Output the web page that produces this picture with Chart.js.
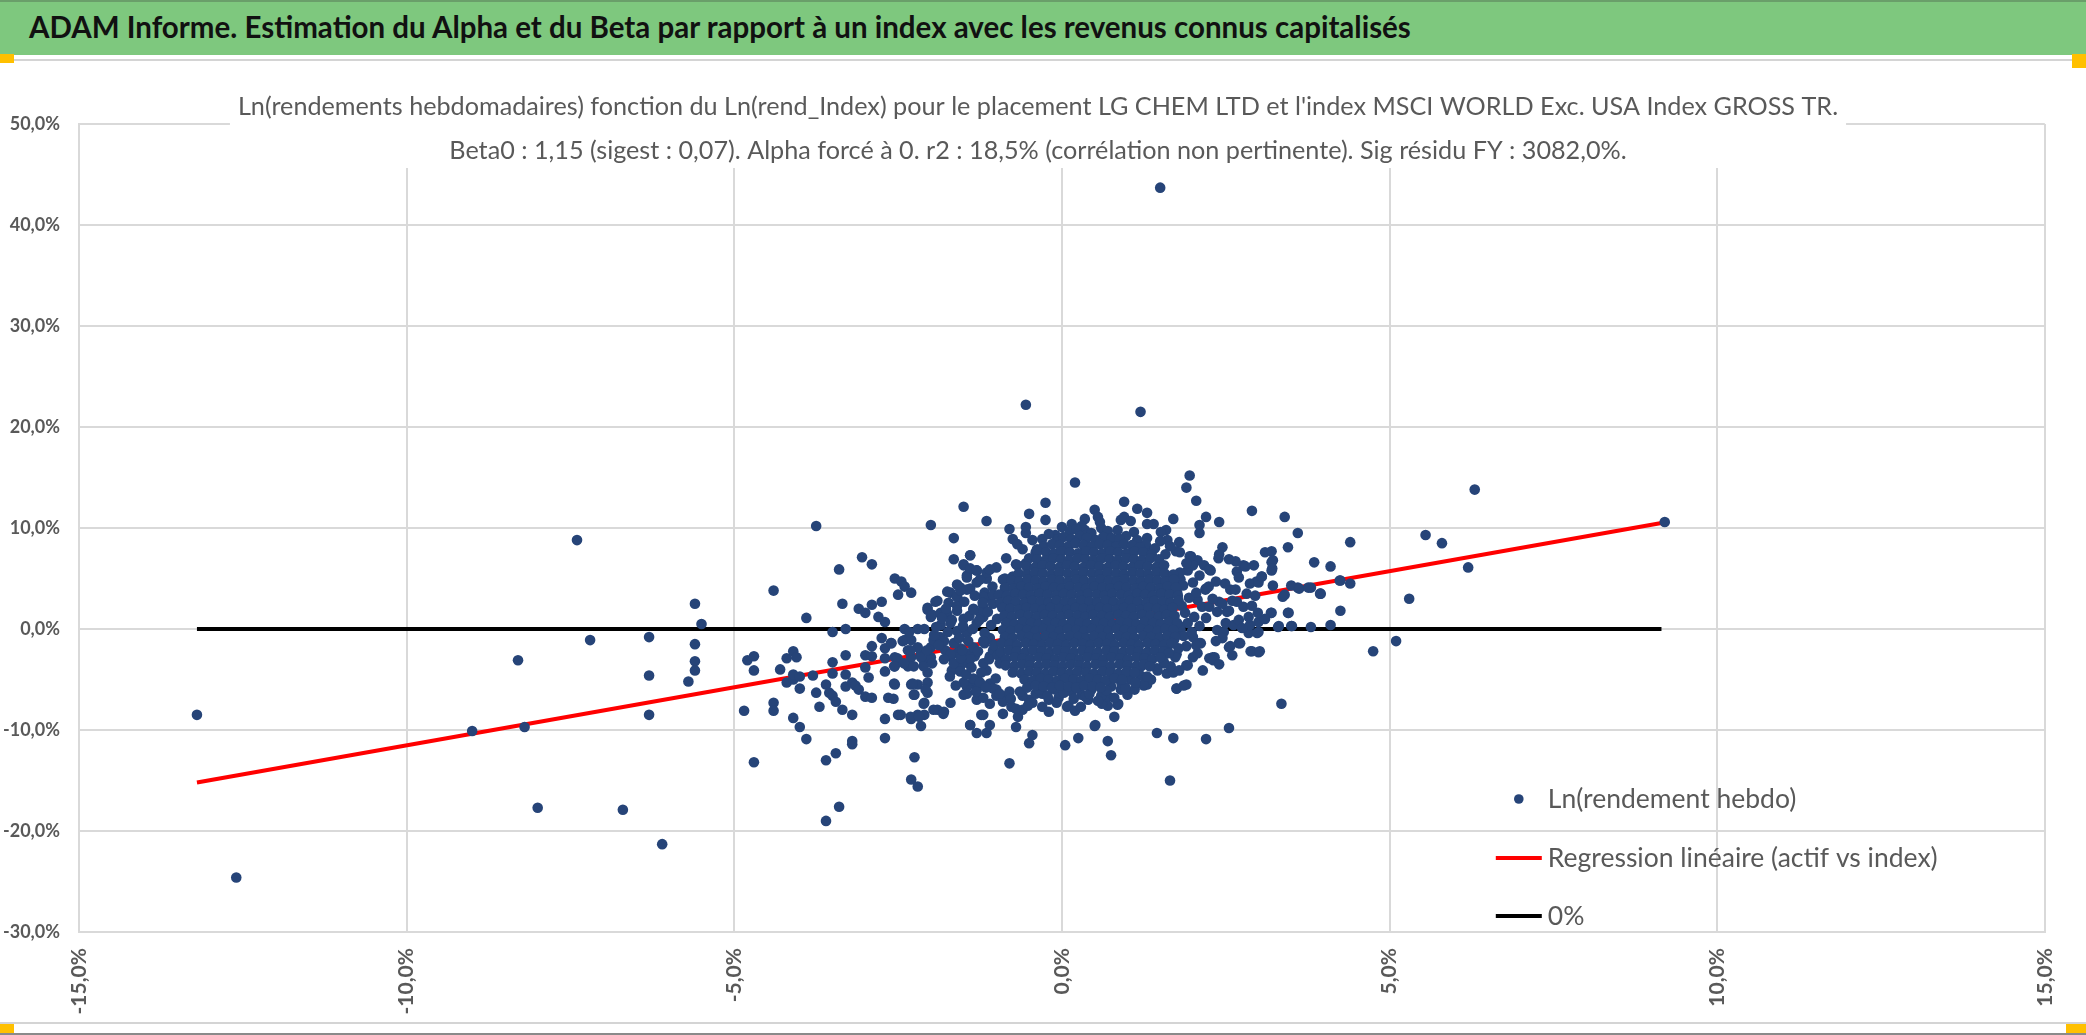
<!DOCTYPE html>
<html>
<head>
<meta charset="utf-8">
<script src="https://cdn.jsdelivr.net/npm/chart.js@4.4.1/dist/chart.umd.min.js"></script>
<style>
  html, body { margin: 0; padding: 0; background: #fff; }
  body { width: 2086px; height: 1035px; position: relative; overflow: hidden; }
  #banner { position: absolute; left: 0; top: 0; width: 2086px; height: 55px; background: #7ec87e; border-top: 2px solid #6a9f6a; box-sizing: border-box; z-index: 2; }
  #banner span { position: absolute; left: 29px; top: 7px; font: 700 29.5px Lato, sans-serif; color: #111; white-space: nowrap; }
  #sep { position: absolute; left: 0; top: 59px; width: 2086px; height: 2px; background: #d4d4d4; z-index: 2; }
  #foot { position: absolute; left: 0; top: 1022px; width: 2086px; height: 2px; background: #d4d4d4; z-index: 2; }
  #foot2 { position: absolute; left: 0; top: 1033px; width: 2086px; height: 2px; background: #8a8a8a; z-index: 2; }
  .handle { position: absolute; width: 14px; height: 9px; background: #ffc000; z-index: 3; }
  #chart { position: absolute; left: 0; top: 0; }
</style>
</head>
<body>
<div id="banner"><span>ADAM Informe. Estimation du Alpha et du Beta par rapport à un index avec les revenus connus capitalisés</span></div>
<div id="sep"></div>
<div class="handle" style="left:0;top:54px"></div>
<div class="handle" style="left:2072px;top:54px;height:14px"></div>
<div id="foot"></div>
<div id="foot2"></div>
<div class="handle" style="left:0;top:1024px"></div>
<div class="handle" style="left:2066px;top:1024px;width:20px"></div>
<canvas id="chart" width="2086" height="1035"></canvas>
<script>
// axis ranges and ticks (percent)
const xMin = -15, xMax = 15, xStep = 5;
const yMin = -30, yMax = 50, yStep = 10;

const seriesNames = ['Ln(rendement hebdo)', 'Regression linéaire (actif vs index)', '0%'];
const titleLines = [
  "Ln(rendements hebdomadaires) fonction du Ln(rend_Index) pour le placement LG CHEM LTD et l'index MSCI WORLD Exc. USA Index GROSS TR.",
  "Beta0 : 1,15 (sigest : 0,07). Alpha forcé à 0. r2 : 18,5% (corrélation non pertinente). Sig résidu FY : 3082,0%."
];

// regression line (beta 1,15, alpha 0) and 0% line
const regressionX = [-13.2, 9.15];
const regressionY = [-15.2, 10.5];
const zeroX = [-13.2, 9.15];
const zeroY = [0, 0];

// weekly log returns [index %, asset %] - isolated points
const leftTail = [
  [-13.2,-8.5],[-12.6,-24.6],[-9.0,-10.1],[-8.2,-9.7],[-8.0,-17.7],[-8.3,-3.1],[-7.4,8.8],[-7.2,-1.1],
  [-6.7,-17.9],[-6.3,-0.8],[-6.3,-4.6],[-6.3,-8.5],[-6.1,-21.3],[-5.7,-5.2],[-5.6,2.5],[-5.5,0.5],
  [-5.6,-1.5],[-5.6,-3.2],[-5.6,-4.1],[-4.85,-8.1],[-4.7,-13.2],[-4.8,-3.1],[-4.7,-2.7],[-4.7,-4.1],
  [-4.4,-7.3],[-4.4,-8.1],[-4.4,3.8],[-4.3,-4.0],[-4.2,-2.9],[-4.1,-2.2],[-4.05,-2.8],[-4.2,-5.3],
  [-4.1,-5.0],[-4.1,-4.5],[-4.0,-4.7],[-4.0,-5.9],[-4.1,-8.8],[-4.0,-9.7],[-3.9,-10.9],[-3.9,1.1],
  [-3.75,10.2],[-3.8,-4.6],[-3.75,-6.3],[-3.7,-7.7],[-3.6,-5.5],[-3.55,-6.3],[-3.5,-6.6],[-3.45,-7.2],
  [-3.35,-8.0],[-3.5,-3.3],[-3.5,-4.4],[-3.3,-4.5],[-3.3,-2.6],[-3.6,-13.0],[-3.45,-12.3],[-3.4,-17.6],
  [-3.6,-19.0],[-3.3,-5.7],[-3.2,-5.3],[-3.15,-5.6],[-3.1,-6.0],[-3.0,-6.7],[-2.9,-6.8],[-3.2,-8.5],
  [-3.2,-11.1],[-3.2,-11.4],[-2.95,-4.8],[-3.0,-3.8],[-3.0,-2.6],[-2.7,-4.2],[-2.65,-6.8],[-2.7,-8.9],
  [-2.7,-10.8],[-2.55,-5.5],[-2.5,-8.5],[-2.3,-8.9],[-2.25,-12.7],[-2.3,-14.9],[-2.2,-15.6],[-2.3,-5.5],
  [-2.25,-6.5],[-2.2,-5.5],[-2.2,-8.5],[-2.15,-9.6],[-2.1,-8.5],
  [-3.4,5.9],[-3.35,2.5],[-3.05,7.1],[-2.9,6.4],[-3.5,-0.3],[-3.3,0.0],[-3.1,2.0],[-3.0,1.6],
  [-2.9,2.4],[-2.75,2.7],[-2.8,1.2],[-2.7,0.7],[-2.55,5.0],[-2.45,4.7],[-2.4,4.2],[-2.3,3.6],
  [-2.5,3.4],[-2.75,-0.9],[-2.9,-1.7],[-2.9,-2.7],[-2.6,-1.4],[-2.7,-1.9],[-2.7,-2.9],[-2.4,-1.1],
  [-2.4,0.0],[-2.2,0.0],[-2.1,0.0],[-2.05,1.9],[-2.0,1.2],[-1.9,2.8],[-2.0,10.3],[-1.5,12.1],
  [-1.65,9.0],[-1.65,6.9],[-1.4,7.3],[-1.15,10.7],[-0.5,11.4],[-0.25,12.5],[-0.8,9.9],[-0.75,8.9],
  [-0.55,10.1],[-0.55,9.5],[0.0,10.1],[-0.1,9.3],[-0.4,7.6],[-0.7,6.4],[-0.55,6.5],[-1.5,6.4],
  [-1.45,5.3],[-1.3,5.8],[-1.4,5.9],[-1.15,5.0],[-0.55,22.2],
  [-2.1,-7.3],[-2.05,-6.3],[-2.05,-5.3],[-2.05,-4.3],[-2.1,-3.3],[-2.15,-2.4],[-2.0,-1.8],[-2.0,-2.8],
  [-1.9,-8.0],[-1.8,-8.2],[-1.7,-7.3],[-2.35,-2.1],[-2.3,-2.8],[-2.35,-3.7],[-2.3,-1.1],[-2.2,-1.8],
  [-2.15,-2.8],[-2.55,-3.7],[-2.55,-2.8],[-1.4,-9.5],[-1.3,-10.3],[-1.15,-10.3],[-1.1,-9.5],[-1.2,-8.5],
  [-0.8,-13.3],[-0.5,-11.3],[-0.45,-10.5],[0.05,-11.5]
];

const rightTail = [
  [1.5,43.7],[1.2,21.5],[0.2,14.5],[1.95,15.2],[1.9,14.0],[2.05,12.7],[0.95,12.6],[1.15,11.9],
  [1.3,11.5],[0.5,11.8],[0.55,11.1],[0.35,10.9],[0.9,10.8],[0.95,11.1],[1.05,10.7],[1.7,10.9],
  [1.4,10.4],[1.3,10.4],[2.9,11.7],[3.4,11.1],[2.2,11.1],[2.1,10.3],[2.1,9.5],[2.4,10.6],
  [3.6,9.5],[4.4,8.6],[5.55,9.3],[5.8,8.5],[6.3,13.8],[6.2,6.1],[9.2,10.6],[3.45,8.1],
  [2.45,8.1],[3.1,7.6],[3.2,7.7],[3.2,6.6],[3.2,5.8],[3.85,6.6],[4.1,6.2],[4.25,4.8],
  [4.4,4.5],[4.25,1.8],[4.1,0.4],[3.8,0.2],[3.5,0.3],[3.3,0.2],[3.95,3.5],[3.8,4.1],
  [3.6,4.1],[3.5,4.3],[3.45,1.6],[3.4,3.4],[5.3,3.0],[5.1,-1.2],[4.75,-2.2],[3.35,-7.4],
  [2.55,-9.8],[2.2,-10.9],[1.7,-10.8],[1.45,-10.3],[1.65,-15.0],[0.5,-9.6],[0.7,-11.1],[0.75,-12.5],
  [0.25,-10.8],[0.8,-8.7],[0.7,-7.6],[0.85,-7.5],[0.1,-7.6],[0.4,-7.0],[0.3,-6.5],[1.75,-5.9],
  [1.9,-5.5],[1.25,-5.6],[1.3,-5.5],[1.0,-6.5],[0.9,-6.0],[2.9,-2.2],[3.0,-2.3],[2.7,-1.4],
  [2.55,-1.8],[2.3,-2.8],[2.25,-2.9],[2.1,-1.4],[2.0,-2.8],[1.9,-3.6],[1.6,-4.4],[1.7,-4.3],
  [3.0,-0.3],[2.85,-0.4],[3.2,1.6],[3.0,0.7]
];

// busy band left of the centre, read from a close-up
const midLeft = [
  [-2.61,-1.4],[-2.43,-1.2],[-2.33,-0.3],[-2.31,-2.1],[-2.51,-2.9],[-2.56,-3.7],[-2.41,-3.4],[-2.26,-3.7],
  [-2.56,-5.4],[-2.57,-6.9],[-2.46,-8.5],[-2.28,-5.4],[-2.26,-6.5],[-2.31,-8.7],[-2.18,-8.7],[-2.11,-7.4],
  [-2.08,-6.0],[-1.96,-8.0],[-1.81,-8.4],[-2.11,-3.7],[-1.98,-3.4],[-2.06,-2.1],[-1.96,-1.1],[-1.86,-0.8],
  [-1.78,-2.1],[-1.7,-2.7],[-1.6,-2.4],[-1.68,-4.1],[-1.55,-3.7],[-1.45,-2.4],[-1.43,-3.4],[-1.33,-2.7],
  [-1.38,-5.4],[-1.5,-6.5],[-1.45,-5.7],[-1.3,-7.0],[-1.23,-8.5],[-1.4,-9.5],[-1.28,-5.1],[-1.15,-4.1],
  [-1.1,-2.7],[-1.18,-1.4],[-1.05,-2.1],[-0.95,-3.4],[-1.1,-5.4],[-1.0,-6.0],[-0.87,-6.7],[-0.77,-7.7],
  [-0.67,-8.7],[-0.9,-8.4],[-0.7,-9.7],[-0.6,-8.0],[-0.5,-7.0],[-0.4,-6.4],[-0.3,-7.7],[-0.2,-7.0],
  [-0.1,-6.0],[0.08,-7.7],[0.21,-5.7],[0.36,-6.7],[0.51,-9.5],[0.61,-7.4],[0.71,-6.7],[0.91,-5.4],
  [0.86,-7.4],[1.01,-4.7],[1.11,-6.0],[1.21,-3.7],
  [-1.4,7.3],[-1.5,6.3],[-1.4,6.0],[-1.3,5.8],[-1.15,5.0],[-1.45,5.1],[-1.55,4.1],[-1.4,4.0],
  [-1.7,3.6],[-1.73,2.6],[-1.6,3.2],[-1.18,3.6],[-1.15,3.1],[-1.2,2.2],[-1.2,1.2],[-1.93,2.7],
  [-2.05,2.1],[-1.98,1.4],[-1.85,1.6],[-0.87,5.0],[-0.72,5.1],[-0.68,6.3],[-0.38,7.9],[-0.4,7.1],
  [-0.12,7.1]
];

// busy band right of the centre, read from a close-up
const midRight = [
  [3.22,6.8],[3.21,6.0],[2.39,7.0],[2.93,6.3],[2.65,6.7],[2.77,6.3],[2.67,5.7],[3.05,5.2],
  [2.97,4.7],[2.87,4.5],[3.22,4.3],[3.37,3.2],[3.62,4.0],[3.76,4.1],[3.94,3.5],[4.24,4.8],
  [3.51,0.3],[3.31,0.3],[3.46,1.6],[3.19,1.6],[3.1,1.0],[2.99,1.6],[2.87,0.4],[2.98,-0.4],
  [2.88,-2.2],[3.02,-2.2],[2.72,-1.4],[2.57,-1.7],[2.33,-2.8],[2.31,-3.1],[2.12,-1.4],[2.07,-2.4],
  [1.92,-3.6],[1.75,-5.9],[1.86,-5.6],[2.37,1.7],[2.52,1.7],[2.4,2.7],[2.24,4.2],[2.27,5.8],
  [1.97,7.2],[1.79,8.6],[1.74,7.7],[1.61,8.8],[1.59,9.8],[1.51,9.6],[1.36,7.8],[1.46,6.2],
  [1.66,5.2],[1.81,4.9],[1.92,5.8],[2.07,6.8],[2.17,6.3],[2.19,3.9],[2.07,2.9],[2.14,2.2],
  [2.02,1.2],[1.92,0.6],[1.81,-0.1],[1.71,-1.1],[1.61,-2.1],[1.56,-3.4],[1.46,-4.1],[1.36,-5.0],
  [1.24,-5.5],[1.66,-3.7],[1.79,-4.1],[2.37,-0.1],[2.47,-0.3],[2.62,0.4],[2.7,0.9],[2.77,2.2],
  [2.67,2.7],[2.82,3.5],[2.57,3.9],[2.49,4.5]
];

// looser ring of points around the dense centre (estimated)
const haloPoints = [
  [-1.95,-0.6],[-1.85,0.4],[-1.8,-1.2],[-1.75,1.5],[-1.7,-2.5],[-1.65,-3.4],[-1.6,-0.2],[-1.6,2.3],
  [-1.55,-4.2],[-1.55,-1.9],[-1.5,-5.3],[-1.45,-6.4],[-1.4,-3.0],[-1.35,-4.9],[-1.3,-6.0],[-1.25,-5.3],
  [-1.2,-6.8],[-1.1,-7.4],[-1.05,-5.9],[-1.0,-6.6],[-0.9,-7.2],[-0.8,-6.2],[-0.7,-7.9],[-0.6,-6.6],
  [-0.45,-7.3],[-0.3,-6.4],[-0.2,-8.2],[-0.05,-6.8],[0.15,-6.2],[0.2,-8.1],[0.45,-6.0],[0.6,-6.6],
  [0.75,-5.7],[1.05,-5.0],[1.2,-4.6],[1.45,-3.9],[1.55,-3.2],[1.75,-2.5],[1.9,-1.7],[2.0,-0.8],
  [2.1,0.3],[2.2,1.1],[2.25,2.2],[2.3,3.0],[2.2,4.0],[2.35,4.7],[2.1,5.3],[2.25,5.9],
  [2.0,6.3],[1.95,7.2],[1.8,7.6],[1.65,8.2],[1.5,8.7],[1.3,9.0],[1.1,9.6],[0.85,9.8],
  [0.6,10.0],[0.35,9.8],[0.15,10.4],[-0.25,10.8],[-0.3,8.9],[-0.6,7.9],[-0.85,7.0],[-1.0,6.1],
  [-1.15,5.6],[-1.3,4.6],[-1.45,3.9],[-1.75,3.7],[-1.6,3.2],[-1.55,3.8],[-1.35,2.0],[-1.2,3.2],
  [-1.3,0.6],[-1.45,-0.4],[-1.1,-0.9],[-1.25,1.6],[-1.05,2.5],[-1.35,-1.8],[-1.5,1.0],[-1.2,-3.4],
  [-0.9,4.9],[-0.75,5.2],
  [2.45,-0.9],[2.5,0.6],[2.55,1.8],[2.6,2.8],[2.65,3.9],[2.7,5.1],[2.8,6.2],[2.55,6.9],
  [2.4,7.4],[2.6,-2.6],[2.75,0.1],[2.85,1.2],[2.9,2.3],[2.95,3.3],[3.0,4.6],[3.05,5.2],
  [2.4,-3.5],[2.15,-4.1],[2.35,-1.2],[2.45,2.5]
];

// fringe that softens the edge of the dense centre (estimated)
const fringePoints = [
  [-1.92,0.2],[-1.88,-1.6],[-1.83,1.1],[-1.8,-3.0],[-1.77,2.0],[-1.74,-0.3],[-1.71,-4.7],[-1.68,0.9],
  [-1.65,-1.4],[-1.62,-5.6],[-1.6,1.8],[-1.57,-0.9],[-1.54,-2.9],[-1.51,0.3],[-1.49,2.7],[-1.46,-4.5],
  [-1.43,-1.2],[-1.41,1.3],[-1.38,-3.8],[-1.36,0.0],[-1.33,3.3],[-1.31,-6.2],[-1.28,-2.2],[-1.26,0.9],
  [-1.23,-4.3],[-1.21,2.6],[-1.18,-0.4],[-1.16,-5.8],[-1.13,1.7],[-1.11,-3.0],[-1.08,0.4],[-1.06,4.2],
  [-1.03,-1.6],[-1.01,-4.9],[-0.99,1.0],[-0.98,-2.6],[-1.7,0.6],[-1.52,-2.1],[-1.35,1.9],[-1.2,-1.2],
  [-1.05,3.4],[-1.6,4.4],[-1.25,4.9],[-1.1,5.9],
  [-0.95,-6.4],[-0.78,-6.9],[-0.64,-6.2],[-0.52,-7.6],[-0.35,-6.0],[-0.22,-6.6],[-0.08,-7.3],[0.03,-6.3],
  [0.18,-6.9],[0.29,-7.7],[0.42,-6.4],[0.55,-7.1],[0.68,-6.1],[0.8,-6.8],[0.97,-5.8],[1.12,-5.3],[1.3,-4.7],
  [-0.68,8.4],[-0.45,8.8],[-0.2,9.4],[-0.05,8.9],[0.12,9.7],[0.3,10.2],[0.45,9.5],[0.7,9.7],
  [0.98,9.2],[1.15,8.8],[1.28,8.4],[1.42,8.0],[1.58,7.4],[0.58,10.6],[0.22,9.9],
  [1.76,3.6],[1.83,2.3],[1.88,1.6],[1.79,0.3],[1.86,-0.7],[1.78,-1.9],[1.73,-2.8],[1.94,3.1],
  [1.85,4.3],[1.8,5.6],[1.9,6.5],[2.0,4.6],[2.05,3.6],[1.98,-0.3],[2.05,-1.6]
];

// dense centre of the cloud, where single points can't be told apart (estimated)
const corePoints = [
  [0.02,9.1],[0.14,8.9],[0.27,9.2],[0.38,9.0],[0.52,8.8],[0.63,9.1],[0.76,9.0],[0.88,8.9],
  [-0.28,8.2],[-0.15,8.4],[-0.03,8.3],[0.1,8.2],[0.21,8.5],[0.33,8.3],[0.46,8.2],[0.58,8.4],[0.7,8.3],[0.83,8.2],[0.95,8.4],[1.07,8.3],[1.19,8.1],
  [-0.37,7.7],[-0.24,7.6],[-0.12,7.5],[0.0,7.7],[0.12,7.6],[0.25,7.5],[0.37,7.7],[0.49,7.6],[0.62,7.5],[0.74,7.7],[0.86,7.6],[0.99,7.5],[1.11,7.7],[1.24,7.6],[1.37,7.4],
  [-0.5,7.0],[-0.38,6.9],[-0.25,6.8],[-0.13,7.0],[-0.01,6.9],[0.11,6.8],[0.24,7.0],[0.36,6.9],[0.48,6.8],[0.61,7.0],[0.73,6.9],[0.85,6.8],[0.98,7.0],[1.1,6.9],[1.22,6.8],[1.35,7.0],[1.48,6.9],
  [-0.54,6.2],[-0.41,6.1],[-0.29,6.3],[-0.17,6.2],[-0.04,6.1],[0.08,6.3],[0.2,6.2],[0.33,6.1],[0.45,6.3],[0.57,6.2],[0.7,6.1],[0.82,6.3],[0.94,6.2],[1.07,6.1],[1.19,6.3],[1.31,6.2],[1.44,6.1],[1.56,6.3],
  [-0.66,5.5],[-0.53,5.4],[-0.41,5.6],[-0.29,5.5],[-0.16,5.4],[-0.04,5.6],[0.09,5.5],[0.21,5.4],[0.33,5.6],[0.46,5.5],[0.58,5.4],[0.7,5.6],[0.83,5.5],[0.95,5.4],[1.08,5.6],[1.2,5.5],[1.32,5.4],[1.45,5.6],[1.57,5.5],[1.7,5.4],
  [-0.77,4.8],[-0.65,4.7],[-0.52,4.9],[-0.4,4.8],[-0.28,4.7],[-0.15,4.9],[-0.03,4.8],[0.1,4.7],[0.22,4.9],[0.34,4.8],[0.47,4.7],[0.59,4.9],[0.72,4.8],[0.84,4.7],[0.96,4.9],[1.09,4.8],[1.21,4.7],[1.34,4.9],[1.46,4.8],[1.58,4.7],[1.71,4.9],
  [-0.87,4.1],[-0.74,4.0],[-0.62,4.2],[-0.5,4.1],[-0.37,4.0],[-0.25,4.2],[-0.12,4.1],[0.0,4.0],[0.12,4.2],[0.25,4.1],[0.37,4.0],[0.5,4.2],[0.62,4.1],[0.74,4.0],[0.87,4.2],[0.99,4.1],[1.12,4.0],[1.24,4.2],[1.36,4.1],[1.49,4.0],[1.61,4.2],[1.74,4.1],
  [-0.96,3.4],[-0.84,3.3],[-0.71,3.5],[-0.59,3.4],[-0.47,3.3],[-0.34,3.5],[-0.22,3.4],[-0.09,3.3],[0.03,3.5],[0.15,3.4],[0.28,3.3],[0.4,3.5],[0.53,3.4],[0.65,3.3],[0.77,3.5],[0.9,3.4],[1.02,3.3],[1.15,3.5],[1.27,3.4],[1.39,3.3],[1.52,3.5],[1.64,3.4],[1.77,3.3],
  [-0.94,2.6],[-0.82,2.8],[-0.7,2.7],[-0.57,2.6],[-0.45,2.8],[-0.32,2.7],[-0.2,2.6],[-0.08,2.8],[0.05,2.7],[0.17,2.6],[0.3,2.8],[0.42,2.7],[0.54,2.6],[0.67,2.8],[0.79,2.7],[0.92,2.6],[1.04,2.8],[1.16,2.7],[1.29,2.6],[1.41,2.8],[1.54,2.7],[1.66,2.6],[1.78,2.8],
  [-0.91,2.1],[-0.79,2.0],[-0.66,1.9],[-0.54,2.1],[-0.41,2.0],[-0.29,1.9],[-0.17,2.1],[-0.04,2.0],[0.08,1.9],[0.21,2.1],[0.33,2.0],[0.45,1.9],[0.58,2.1],[0.7,2.0],[0.83,1.9],[0.95,2.1],[1.07,2.0],[1.2,1.9],[1.32,2.1],[1.45,2.0],[1.57,1.9],[1.69,2.1],
  [-0.88,1.3],[-0.76,1.2],[-0.63,1.4],[-0.51,1.3],[-0.38,1.2],[-0.26,1.4],[-0.14,1.3],[-0.01,1.2],[0.11,1.4],[0.24,1.3],[0.36,1.2],[0.48,1.4],[0.61,1.3],[0.73,1.2],[0.86,1.4],[0.98,1.3],[1.1,1.2],[1.23,1.4],[1.35,1.3],[1.48,1.2],[1.6,1.4],[1.72,1.3],
  [-0.85,0.6],[-0.72,0.5],[-0.6,0.7],[-0.47,0.6],[-0.35,0.5],[-0.23,0.7],[-0.1,0.6],[0.02,0.5],[0.15,0.7],[0.27,0.6],[0.39,0.5],[0.52,0.7],[0.64,0.6],[0.77,0.5],[0.89,0.7],[1.01,0.6],[1.14,0.5],[1.26,0.7],[1.39,0.6],[1.51,0.5],[1.63,0.7],[1.76,0.6],
  [-0.9,-0.1],[-0.78,-0.2],[-0.65,0.0],[-0.53,-0.1],[-0.4,-0.2],[-0.28,0.0],[-0.16,-0.1],[-0.03,-0.2],[0.09,0.0],[0.22,-0.1],[0.34,-0.2],[0.46,0.0],[0.59,-0.1],[0.71,-0.2],[0.84,0.0],[0.96,-0.1],[1.08,-0.2],[1.21,0.0],[1.33,-0.1],[1.46,-0.2],[1.58,0.0],[1.7,-0.1],
  [-0.87,-0.8],[-0.75,-0.9],[-0.62,-0.7],[-0.5,-0.8],[-0.37,-0.9],[-0.25,-0.7],[-0.13,-0.8],[0.0,-0.9],[0.12,-0.7],[0.25,-0.8],[0.37,-0.9],[0.49,-0.7],[0.62,-0.8],[0.74,-0.9],[0.87,-0.7],[0.99,-0.8],[1.11,-0.9],[1.24,-0.7],[1.36,-0.8],[1.49,-0.9],[1.61,-0.7],[1.73,-0.8],
  [-0.92,-1.4],[-0.8,-1.5],[-0.68,-1.6],[-0.55,-1.4],[-0.43,-1.5],[-0.3,-1.6],[-0.18,-1.4],[-0.06,-1.5],[0.07,-1.6],[0.19,-1.4],[0.32,-1.5],[0.44,-1.6],[0.56,-1.4],[0.69,-1.5],[0.81,-1.6],[0.94,-1.4],[1.06,-1.5],[1.18,-1.6],[1.31,-1.4],[1.43,-1.5],[1.56,-1.6],[1.68,-1.4],
  [-0.93,-2.3],[-0.81,-2.1],[-0.69,-2.2],[-0.56,-2.3],[-0.44,-2.1],[-0.31,-2.2],[-0.19,-2.3],[-0.07,-2.1],[0.06,-2.2],[0.18,-2.3],[0.31,-2.1],[0.43,-2.2],[0.55,-2.3],[0.68,-2.1],[0.8,-2.2],[0.93,-2.3],[1.05,-2.1],[1.17,-2.2],[1.3,-2.3],[1.42,-2.1],[1.55,-2.2],[1.63,-2.4],
  [-0.85,-3.0],[-0.72,-2.8],[-0.6,-2.9],[-0.48,-3.0],[-0.35,-2.8],[-0.23,-2.9],[-0.1,-3.0],[0.02,-2.8],[0.14,-2.9],[0.27,-3.0],[0.39,-2.8],[0.52,-2.9],[0.64,-3.0],[0.76,-2.8],[0.89,-2.9],[1.01,-3.0],[1.14,-2.8],[1.26,-2.9],[1.38,-3.0],[1.5,-2.8],
  [-0.86,-3.6],[-0.73,-3.7],[-0.61,-3.5],[-0.49,-3.6],[-0.36,-3.7],[-0.24,-3.5],[-0.11,-3.6],[0.01,-3.7],[0.13,-3.5],[0.26,-3.6],[0.38,-3.7],[0.51,-3.5],[0.63,-3.6],[0.75,-3.7],[0.88,-3.5],[1.0,-3.6],[1.13,-3.7],[1.25,-3.5],[1.34,-3.7],
  [-0.75,-4.3],[-0.62,-4.4],[-0.5,-4.2],[-0.38,-4.3],[-0.25,-4.4],[-0.13,-4.2],[0.0,-4.3],[0.12,-4.4],[0.24,-4.2],[0.37,-4.3],[0.49,-4.4],[0.62,-4.2],[0.74,-4.3],[0.86,-4.4],[0.99,-4.2],[1.11,-4.3],
  [-0.57,-5.0],[-0.44,-5.1],[-0.32,-4.9],[-0.2,-5.0],[-0.07,-5.1],[0.05,-4.9],[0.18,-5.0],[0.3,-5.1],[0.42,-4.9],[0.55,-5.0],[0.67,-5.1],[0.8,-4.9],[0.92,-5.0],
  [-0.53,-5.8],[-0.4,-5.6],[-0.28,-5.7],[-0.15,-5.8],[-0.03,-5.6],[0.1,-5.7],[0.22,-5.8],[0.34,-5.6],[0.47,-5.7],[0.59,-5.8]
];

const pointColor = '#264478';
const textColor = '#595959';
const gridColor = '#d9d9d9';

const toXY = arr => arr.map(p => ({ x: p[0], y: p[1] }));
const pairUp = (xs, ys) => xs.map((x, i) => ({ x: x, y: ys[i] }));
const fmtPct = v => Number(v).toFixed(1).replace('.', ',') + '%';

// title drawn over the top of the plot with its own white box, like the original
const titlePlugin = {
  id: 'overlayTitle',
  afterDraw(chart) {
    const ctx = chart.ctx;
    const cx = 1038;
    ctx.save();
    ctx.font = '400 25.2px Lato, sans-serif';
    const w = Math.max(...titleLines.map(t => ctx.measureText(t).width));
    ctx.fillStyle = '#fff';
    ctx.fillRect(cx - w / 2 - 8, 84, w + 16, 84);
    ctx.fillStyle = textColor;
    ctx.textAlign = 'center';
    ctx.textBaseline = 'middle';
    ctx.fillText(titleLines[0], cx, 107);
    ctx.fillText(titleLines[1], cx, 151);
    ctx.restore();
  }
};

// legend inside the plot, bottom right
const legendPlugin = {
  id: 'innerLegend',
  afterDraw(chart) {
    const ctx = chart.ctx;
    const area = chart.chartArea;
    const x0 = area.right - 549;
    const rows = [area.bottom - 133, area.bottom - 74, area.bottom - 16];
    ctx.save();
    ctx.font = '400 26.5px Lato, sans-serif';
    ctx.textBaseline = 'middle';
    ctx.textAlign = 'left';
    chart.data.datasets.forEach((ds, i) => {
      const y = rows[i];
      if (i === 0) {
        ctx.fillStyle = ds.backgroundColor;
        ctx.beginPath();
        ctx.arc(x0 + 23, y, 4.8, 0, Math.PI * 2);
        ctx.fill();
      } else {
        ctx.strokeStyle = ds.borderColor;
        ctx.lineWidth = ds.borderWidth;
        ctx.beginPath();
        ctx.moveTo(x0, y);
        ctx.lineTo(x0 + 46, y);
        ctx.stroke();
      }
      ctx.fillStyle = textColor;
      ctx.fillText(ds.label, x0 + 52, y);
    });
    ctx.restore();
  }
};

const ctx = document.getElementById('chart');
new Chart(ctx, {
  type: 'scatter',
  data: {
    datasets: [
      {
        label: seriesNames[0],
        data: toXY([].concat(leftTail, rightTail, midLeft, midRight, haloPoints, fringePoints, corePoints)),
        backgroundColor: pointColor,
        borderWidth: 0,
        pointRadius: 5.3,
        order: 0
      },
      {
        label: seriesNames[1],
        data: pairUp(regressionX, regressionY),
        showLine: true,
        borderColor: '#ff0000',
        borderWidth: 4,
        pointRadius: 0,
        order: 1
      },
      {
        label: seriesNames[2],
        data: pairUp(zeroX, zeroY),
        showLine: true,
        borderColor: '#000000',
        borderWidth: 4,
        pointRadius: 0,
        order: 2
      }
    ]
  },
  options: {
    responsive: false,
    animation: false,
    devicePixelRatio: 1,
    layout: { padding: { left: 0, top: 124, right: 17, bottom: 0 } },
    plugins: {
      legend: { display: false },
      title: { display: false },
      tooltip: { enabled: false }
    },
    scales: {
      x: {
        type: 'linear',
        min: xMin,
        max: xMax,
        afterFit: s => { s.height = 103; },
        ticks: {
          stepSize: xStep,
          minRotation: 90,
          maxRotation: 90,
          padding: 16,
          color: textColor,
          font: { family: 'Lato', weight: 'bold', size: 21 },
          callback: v => fmtPct(v)
        },
        grid: { color: gridColor, lineWidth: 2, drawTicks: false },
        border: { color: gridColor, width: 2 }
      },
      y: {
        type: 'linear',
        min: yMin,
        max: yMax,
        afterFit: s => { s.width = 79; },
        ticks: {
          stepSize: yStep,
          padding: 19,
          color: textColor,
          font: { family: 'Lato', weight: 'bold', size: 18 },
          callback: v => fmtPct(v)
        },
        grid: { color: gridColor, lineWidth: 2, drawTicks: false },
        border: { color: gridColor, width: 2 }
      }
    }
  },
  plugins: [titlePlugin, legendPlugin]
});
</script>
</body>
</html>
